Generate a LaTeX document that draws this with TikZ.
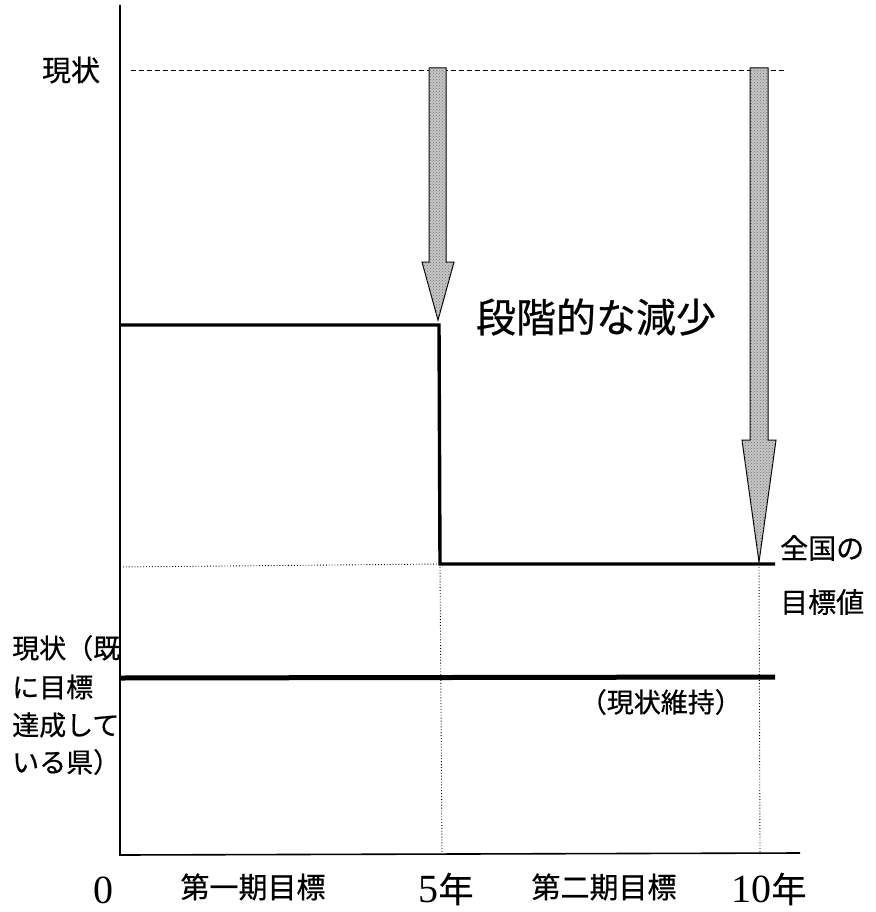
\documentclass[tikz,border=0pt]{standalone}
\usepackage{fontspec}
\usetikzlibrary{patterns}
\setmainfont{Liberation Serif}
\newfontfamily\jp[FakeBold=0.6]{Noto Sans CJK JP}
\tikzset{
  axisline/.style={line width=1.6pt, black},
  stepline/.style={line width=3.4pt, black},
  keepline/.style={line width=5pt, black},
  guide/.style={line width=0.9pt, black, dotted},
  topline/.style={line width=0.9pt, black, dash pattern=on 5pt off 3pt},
  downarrow/.style={draw=black, line width=1pt, fill=gray!45, line join=miter,
    postaction={pattern=crosshatch dots, pattern color=black!55}},
  lbl/.style={font=\jp\fontsize{27}{30}\selectfont, inner sep=0pt},
  big/.style={font=\jp\fontsize{40}{46}\selectfont, inner sep=0pt},
  tick/.style={font=\jp\fontsize{29}{32}\selectfont, inner sep=0pt},
  num/.style={font=\fontsize{40}{44}\selectfont, inner sep=0pt}
}
\begin{document}
\begin{tikzpicture}[x=1pt,y=-1pt]
\useasboundingbox (0,0) rectangle (875,912);
% axes
\coordinate (O) at (120,855);
\coordinate (Ytop) at (120,5);
\coordinate (Xend) at (800,853);
\draw[axisline] (Ytop) -- (O) -- (Xend);
% top dashed line
\coordinate (d1) at (131,70);
\coordinate (d2) at (785,70);
\draw[topline] (d1) -- (d2);
% guide lines
\coordinate (g1) at (120,567);
\coordinate (s3) at (440,564);
\coordinate (g5) at (442,855);
\coordinate (g6) at (759,564);
\coordinate (g7) at (760,854);
\draw[guide] (g1) -- (s3);
\draw[guide] (s3) -- (g5);
\draw[guide] (g6) -- (g7);
% arrows
\draw[downarrow] (429,68) -- (446,68) -- (446,262) -- (454,262) -- (438,320) -- (422,262) -- (429,262) -- cycle;
\draw[downarrow] (750,68) -- (768,68) -- (768,440) -- (776,440) -- (759,562) -- (742,440) -- (750,440) -- cycle;
% step line
\coordinate (s1) at (120,325);
\coordinate (s2) at (439,325);
\coordinate (s4) at (775,564);
\draw[stepline] (s1) -- (s2) -- (s3) -- (s4);
% keep line
\coordinate (k1) at (120,678);
\coordinate (k2) at (775,677);
\draw[keepline] (k1) -- (k2);
% labels
\node[lbl, font=\jp\fontsize{29}{32}\selectfont] (genjo) at (71,70) {現状};
\node[big] (dankai) at (596,317) {段階的な減少};
\node[lbl, font=\jp\fontsize{28}{32}\selectfont, anchor=west] (zenkoku) at (780,548) {全国の};
\node[lbl, font=\jp\fontsize{28}{32}\selectfont, anchor=west] (mokuhyo) at (780,602) {目標値};
\node[lbl, anchor=east] (iji) at (742,702) {（現状維持）};
\begin{scope}
\clip (0,620) rectangle (121,800);
\node[lbl, anchor=west] (l1) at (12,648) {現状（既};
\node[lbl, anchor=west] (l2) at (12,687) {に目標};
\node[lbl, anchor=west] (l3) at (12,725) {達成して};
\node[lbl, anchor=west] (l4) at (12,762) {いる県）};
\end{scope}
% bottom labels
\node[num] (zero) at (103,890) {0};
\node[tick] (p1) at (253,887) {第一期目標};
\node[num] (y5) at (446,889) {5\jp\fontsize{35}{38}\selectfont 年};
\node[tick] (p2) at (604,887) {第二期目標};
\node[num] (y10) at (769,889) {10\jp\fontsize{35}{38}\selectfont 年};
\end{tikzpicture}
\end{document}
